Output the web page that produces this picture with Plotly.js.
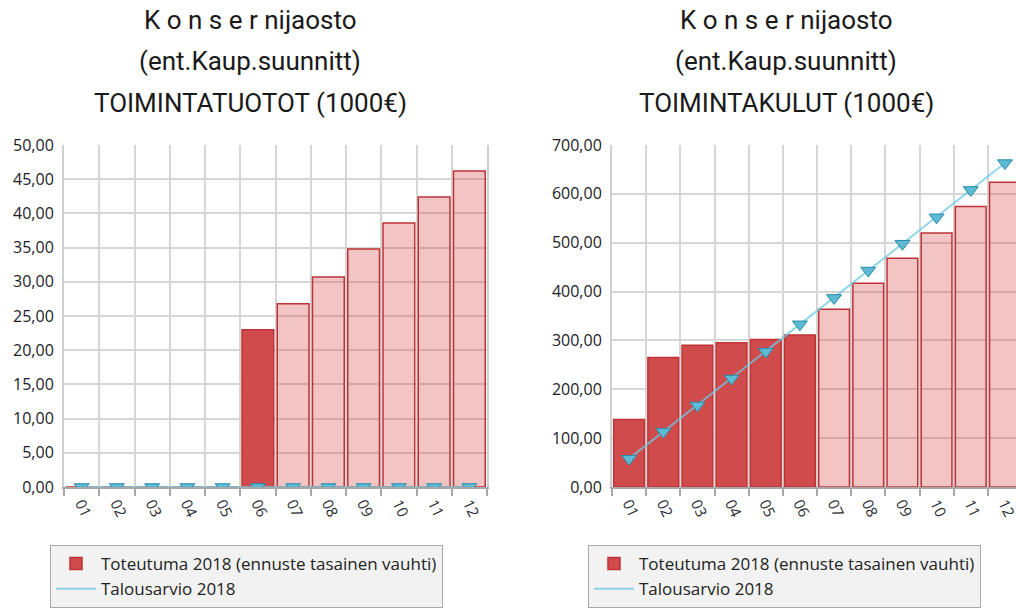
<!DOCTYPE html>
<html>
<head>
<meta charset="utf-8">
<script src="https://cdn.plot.ly/plotly-3.0.1.min.js"></script>
<style>
  html, body { margin: 0; padding: 0; overflow: hidden; background: #fff; }
  #chart { width: 1030px; height: 610px; }
</style>
</head>
<body>
<div id="chart"></div>
<script>
// kuukaudet
const months = ["01", "02", "03", "04", "05", "06", "07", "08", "09", "10", "11", "12"];
// toteutuneet kuukaudet (loput on ennustetta)
const actualMonths = 6;

// Toimintatuotot (1000€)
const tuototToteutuma = [0, 0, 0, 0, 0, 23.0, 26.8, 30.7, 34.8, 38.6, 42.4, 46.2];
const tuototTalousarvio = [0, 0, 0, 0, 0, 0, 0, 0, 0, 0, 0, 0];

// Toimintakulut (1000€)
const kulutToteutuma = [138, 265, 290, 295, 302, 311, 364, 417, 468, 520, 574, 624];
const kulutTalousarvio = [58, 113, 167, 222, 277, 333, 387, 443, 498, 552, 608, 663];

const titleLines = ["K o n s e r nijaosto", "(ent.Kaup.suunnitt)"];
const leftTitle = "TOIMINTATUOTOT (1000€)";
const rightTitle = "TOIMINTAKULUT (1000€)";
const barName = "Toteutuma 2018 (ennuste tasainen vauhti)";
const lineName = "Talousarvio 2018";

const W = 1030, H = 610;
const darkRed = "rgb(208,76,76)";
const lightRed = "rgba(215,60,60,0.30)";
const barColors = months.map((m, i) => i < actualMonths ? darkRed : lightRed);

function barTrace(values, xa, ya, legend) {
    return {
        type: "bar",
        x: months,
        y: values,
        xaxis: xa,
        yaxis: ya,
        name: barName,
        legend: legend,
        marker: {
            color: barColors,
            line: { color: "rgb(192,50,54)", width: 1.5 }
        },
        hoverinfo: "y"
    };
}

function lineTraces(values, xa, ya, legend) {
    return [
        {
            type: "scatter",
            mode: "lines",
            x: months,
            y: values,
            xaxis: xa,
            yaxis: ya,
            name: lineName,
            legend: legend,
            line: { color: "rgba(110,200,225,0.75)", width: 2 }
        },
        {
            type: "scatter",
            mode: "markers",
            x: months,
            y: values,
            xaxis: xa,
            yaxis: ya,
            showlegend: false,
            marker: {
                symbol: "triangle-down",
                size: 13,
                color: "rgb(92,186,210)",
                line: { color: "rgb(40,140,170)", width: 1 }
            }
        }
    ];
}

let data = [
    barTrace(tuototToteutuma, "x", "y", "legend"),
    ...lineTraces(tuototTalousarvio, "x", "y", "legend"),
    barTrace(kulutToteutuma, "x2", "y2", "legend2"),
    ...lineTraces(kulutTalousarvio, "x2", "y2", "legend2")
];

const tickFont = { family: "Open Sans", size: 16, color: "#1c1c28" };
const yDomain = [(H - 487) / H, (H - 145) / H];

function xAxis(domain, anchor) {
    return {
        domain: domain,
        anchor: anchor,
        type: "category",
        tickson: "boundaries",
        showgrid: true,
        gridcolor: "#d6d6d6",
        gridwidth: 2,
        showline: true,
        linecolor: "#a8a8a8",
        linewidth: 2,
        ticks: "outside",
        ticklen: 7,
        tickwidth: 2,
        tickcolor: "#a8a8a8",
        tickangle: 65,
        tickfont: { family: "Open Sans", size: 15, color: "#2a2a33" },
        range: [-0.5, 11.5],
        fixedrange: true
    };
}

function yAxis(range, dtick, anchor) {
    return {
        domain: yDomain,
        anchor: anchor,
        range: range,
        dtick: dtick,
        tickformat: ".2f",
        showgrid: true,
        gridcolor: "#d6d6d6",
        gridwidth: 2,
        zeroline: false,
        showline: true,
        linecolor: "#cfcfcf",
        linewidth: 2,
        mirror: true,
        ticks: "",
        ticklabelstandoff: 5,
        tickfont: tickFont,
        fixedrange: true
    };
}

const legendStyle = {
    y: (H - 545) / H,
    yanchor: "top",
    xanchor: "left",
    bgcolor: "#f2f2f2",
    bordercolor: "#a9a9a9",
    borderwidth: 1,
    itemwidth: 40,
    font: { family: "Open Sans", size: 17, color: "#222" },
    traceorder: "normal"
};

let annotations = [];
[[250, leftTitle], [786, rightTitle]].forEach(([cx, last]) => {
    titleLines.concat([last]).forEach((txt, i) => {
        annotations.push({
            text: txt,
            xref: "paper",
            yref: "paper",
            x: cx / W,
            y: (H - (20 + i * 41.5)) / H,
            xanchor: "center",
            yanchor: "middle",
            showarrow: false,
            font: { family: "Roboto", size: 26, color: "#1a1a1a" }
        });
    });
});

let layout = {
    width: W,
    height: H,
    margin: { l: 0, r: 0, t: 0, b: 0 },
    paper_bgcolor: "#fff",
    plot_bgcolor: "#fff",
    separators: ", ",
    bargap: 0.1,
    showlegend: true,
    xaxis: xAxis([64 / W, 487 / W], "y"),
    yaxis: yAxis([0, 50], 5, "x"),
    xaxis2: xAxis([612 / W, 1022 / W], "y2"),
    yaxis2: yAxis([0, 700], 100, "x2"),
    legend: Object.assign({ x: 50 / W }, legendStyle),
    legend2: Object.assign({ x: 588 / W }, legendStyle),
    annotations: annotations
};

Plotly.newPlot("chart", data, layout, { displayModeBar: false, staticPlot: true });
</script>
</body>
</html>
